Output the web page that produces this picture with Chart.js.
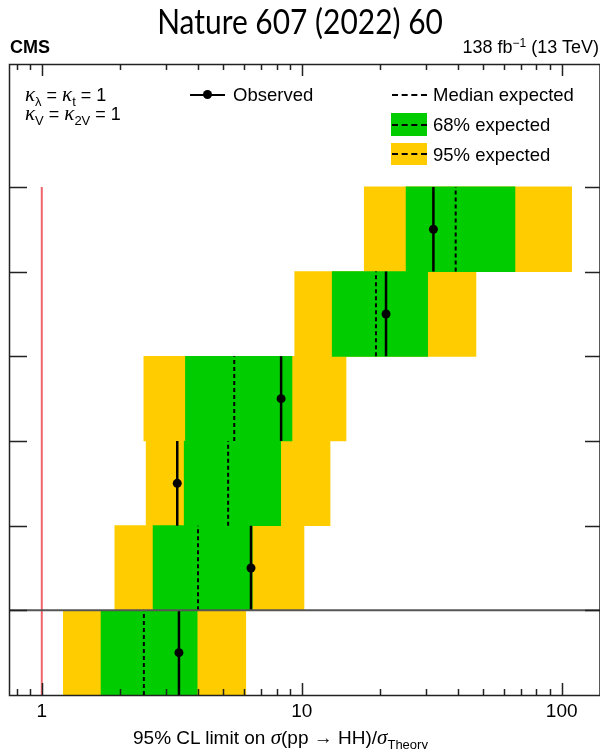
<!DOCTYPE html>
<html>
<head>
<meta charset="utf-8">
<script src="https://cdn.jsdelivr.net/npm/chart.js@4.4.1/dist/chart.umd.min.js"></script>
<style>
  html, body { margin: 0; padding: 0; background: #fff; }
  #wrap { position: relative; width: 600px; height: 749px; overflow: hidden; font-family: 'Liberation Sans', Arial, sans-serif; color: #000; }
  #wrap canvas { position: absolute; left: 0; top: 0; }
  .t { position: absolute; white-space: nowrap; line-height: 1; }
  .title { left: 0; width: 600px; top: 4px; text-align: center; font-family: Lato, 'Open Sans', sans-serif; font-size: 34px; transform: scaleX(0.88); }
  .cms { left: 10px; top: 38px; font-weight: bold; font-size: 18px; }
  .lumi { right: 1px; top: 38px; font-size: 18px; }
  .kap { left: 25px; font-size: 18px; }
  .kap i { font-family: 'Liberation Serif', serif; font-size: 21px; }
  .kap sub { font-size: 13px; vertical-align: -5px; line-height: 0; }
  .leg { font-size: 18.5px; }
  .xt { left: 133px; top: 727px; font-size: 19px; }
  .xt i { font-family: 'Liberation Serif', serif; font-size: 21px; }
  .xt sub { font-size: 13px; vertical-align: -5px; line-height: 0; }
  .sw { position: absolute; }
  .dash { position: absolute; height: 0; border-top: 2px dashed #000; }
</style>
</head>
<body>
<div id="wrap">
  <canvas id="c" width="600" height="749"></canvas>
  <div class="t title">Nature 607 (2022) 60</div>
  <div class="t cms">CMS</div>
  <div class="t lumi">138 fb<sup style="font-size:12px;vertical-align:6px;line-height:0">−1</sup> (13 TeV)</div>
  <div class="t kap" style="top:84px"><i>κ</i><sub>λ</sub> = <i>κ</i><sub>t</sub> = 1</div>
  <div class="t kap" style="top:103px"><i>κ</i><sub>V</sub> = <i>κ</i><sub>2V</sub> = 1</div>

  <div class="sw" style="left:190px;top:94px;width:35px;height:2px;background:#000"></div>
  <div class="sw" style="left:203px;top:90px;width:9px;height:9px;border-radius:50%;background:#000"></div>
  <div class="t leg" style="left:233px;top:86px">Observed</div>

  <div class="dash" style="left:392px;top:94px;width:35px"></div>
  <div class="t leg" style="left:433px;top:86px">Median expected</div>

  <div class="sw" style="left:391px;top:113px;width:36px;height:23px;background:#00cc00"></div>
  <div class="dash" style="left:392px;top:124px;width:35px"></div>
  <div class="t leg" style="left:433px;top:116px">68% expected</div>

  <div class="sw" style="left:391px;top:143px;width:36px;height:22px;background:#ffcc00"></div>
  <div class="dash" style="left:392px;top:153px;width:35px"></div>
  <div class="t leg" style="left:433px;top:146px">95% expected</div>

  <div class="t xt">95% CL limit on <i>σ</i>(pp → HH)/<i>σ</i><sub>Theory</sub></div>
</div>
<script>
// rows from bottom (combination) to top; one row per channel
const rowCenters = [0.5, 1.5, 2.5, 3.5, 4.5, 5.5];
const observed   = [3.37, 6.38, 3.32, 8.33, 21.1, 32.1];
const expected   = [2.47, 3.99, 5.21, 5.50, 19.3, 39.1];
const band68Lo   = [1.69, 2.68, 3.53, 3.57, 13.1, 25.2];
const band68Hi   = [3.96, 6.45, 8.30, 9.17, 30.5, 66.1];
const band95Lo   = [1.21, 1.91, 2.52, 2.47, 9.4, 17.4];
const band95Hi   = [6.09, 10.2, 12.85, 14.8, 46.8, 109.2];
const xLabelTicks = [1, 10, 100];
const xMinorTicks = [0.8, 0.9, 2, 3, 4, 5, 6, 7, 8, 9, 20, 30, 40, 50, 60, 70, 80, 90];
const yTicks = [1, 2, 3, 4, 5, 6];
const separatorAt = 1;
const theoryRef = 1;

const GREEN = '#00cc00', YELLOW = '#ffcc00';

const band = (lo, hi) => rowCenters.map((y, i) => ({ x: [lo[i], hi[i]], y }));

// vertical segment spanning each row, with a gap between rows
function segments(vals, withDot) {
  const out = [];
  rowCenters.forEach((y, i) => {
    out.push({ x: vals[i], y: y - 0.5 });
    if (withDot) out.push({ x: vals[i], y, dot: true });
    out.push({ x: vals[i], y: y + 0.5 });
    out.push({ x: vals[i], y: null });
  });
  return out;
}

/* frame, inward tick marks and the separator line */
const frame = {
  id: 'frame',
  afterDatasetsDraw(chart) {
    const { ctx, chartArea: a, scales: { x, y } } = chart;
    ctx.save();
    ctx.strokeStyle = '#555';
    ctx.lineWidth = 2;
    ctx.beginPath();
    ctx.moveTo(a.left, y.getPixelForValue(separatorAt));
    ctx.lineTo(a.right, y.getPixelForValue(separatorAt));
    ctx.stroke();

    ctx.strokeStyle = '#222';
    ctx.lineWidth = 1.5;
    ctx.beginPath();
    const tick = (v, len) => {
      const px = Math.round(x.getPixelForValue(v)) + 0.5;
      ctx.moveTo(px, a.bottom); ctx.lineTo(px, a.bottom - len);
      ctx.moveTo(px, a.top); ctx.lineTo(px, a.top + len);
    };
    xLabelTicks.forEach(v => tick(v, 12));
    xMinorTicks.forEach(v => tick(v, 6));
    yTicks.forEach(v => {
      const py = Math.round(y.getPixelForValue(v)) + 0.5;
      ctx.moveTo(a.left, py); ctx.lineTo(a.left + 18, py);
      ctx.moveTo(a.right, py); ctx.lineTo(a.right - 15, py);
    });
    ctx.stroke();

    ctx.strokeRect(a.left + 0.5, a.top + 0.5, a.right - a.left - 0.5, a.bottom - a.top);
    ctx.restore();
  }
};

new Chart(document.getElementById('c'), {
  type: 'bar',
  data: {
    datasets: [
      { label: '95% expected', data: band(band95Lo, band95Hi), backgroundColor: YELLOW, order: 5 },
      { label: '68% expected', data: band(band68Lo, band68Hi), backgroundColor: GREEN, order: 4 },
      { type: 'line', label: 'SM', indexAxis: 'x', data: [{ x: theoryRef, y: 0 }, { x: theoryRef, y: 6 }],
        borderColor: '#f0646a', borderWidth: 2, pointRadius: 0, order: 3 },
      { type: 'line', label: 'Median expected', indexAxis: 'x', data: segments(expected, false),
        borderColor: '#000', borderWidth: 2, borderDash: [4, 3], pointRadius: 0, spanGaps: false, order: 2 },
      { type: 'line', label: 'Observed', indexAxis: 'x', data: segments(observed, true),
        borderColor: '#000', borderWidth: 2.5, backgroundColor: '#000', spanGaps: false, order: 1,
        pointRadius: c => (c.raw && c.raw.dot ? 4.5 : 0), pointBorderWidth: 0 }
    ]
  },
  options: {
    responsive: false,
    devicePixelRatio: 1,
    animation: false,
    indexAxis: 'y',
    layout: { padding: { left: 9, right: 0, top: 64, bottom: 0 } },
    datasets: { bar: { grouped: false, barPercentage: 1, categoryPercentage: 1, borderWidth: 0 } },
    plugins: { legend: { display: false }, tooltip: { enabled: false } },
    scales: {
      x: {
        type: 'logarithmic', min: 0.748, max: 140.4, bounds: 'data', offset: false,
        grid: { display: false, drawTicks: false }, border: { display: false },
        afterBuildTicks: s => { s.ticks = xLabelTicks.map(value => ({ value })); },
        afterFit: s => { s.height = 54; },
        ticks: { autoSkip: false, maxRotation: 0, padding: 5, color: '#000',
          font: { family: "'Liberation Sans', Arial, sans-serif", size: 19 },
          callback: v => String(v) }
      },
      y: {
        type: 'linear', display: false, min: 0, max: 7.452, bounds: 'data', offset: false,
        afterBuildTicks: s => { s.ticks = yTicks.map(value => ({ value })); }
      }
    }
  },
  plugins: [frame]
});
</script>
</body>
</html>
